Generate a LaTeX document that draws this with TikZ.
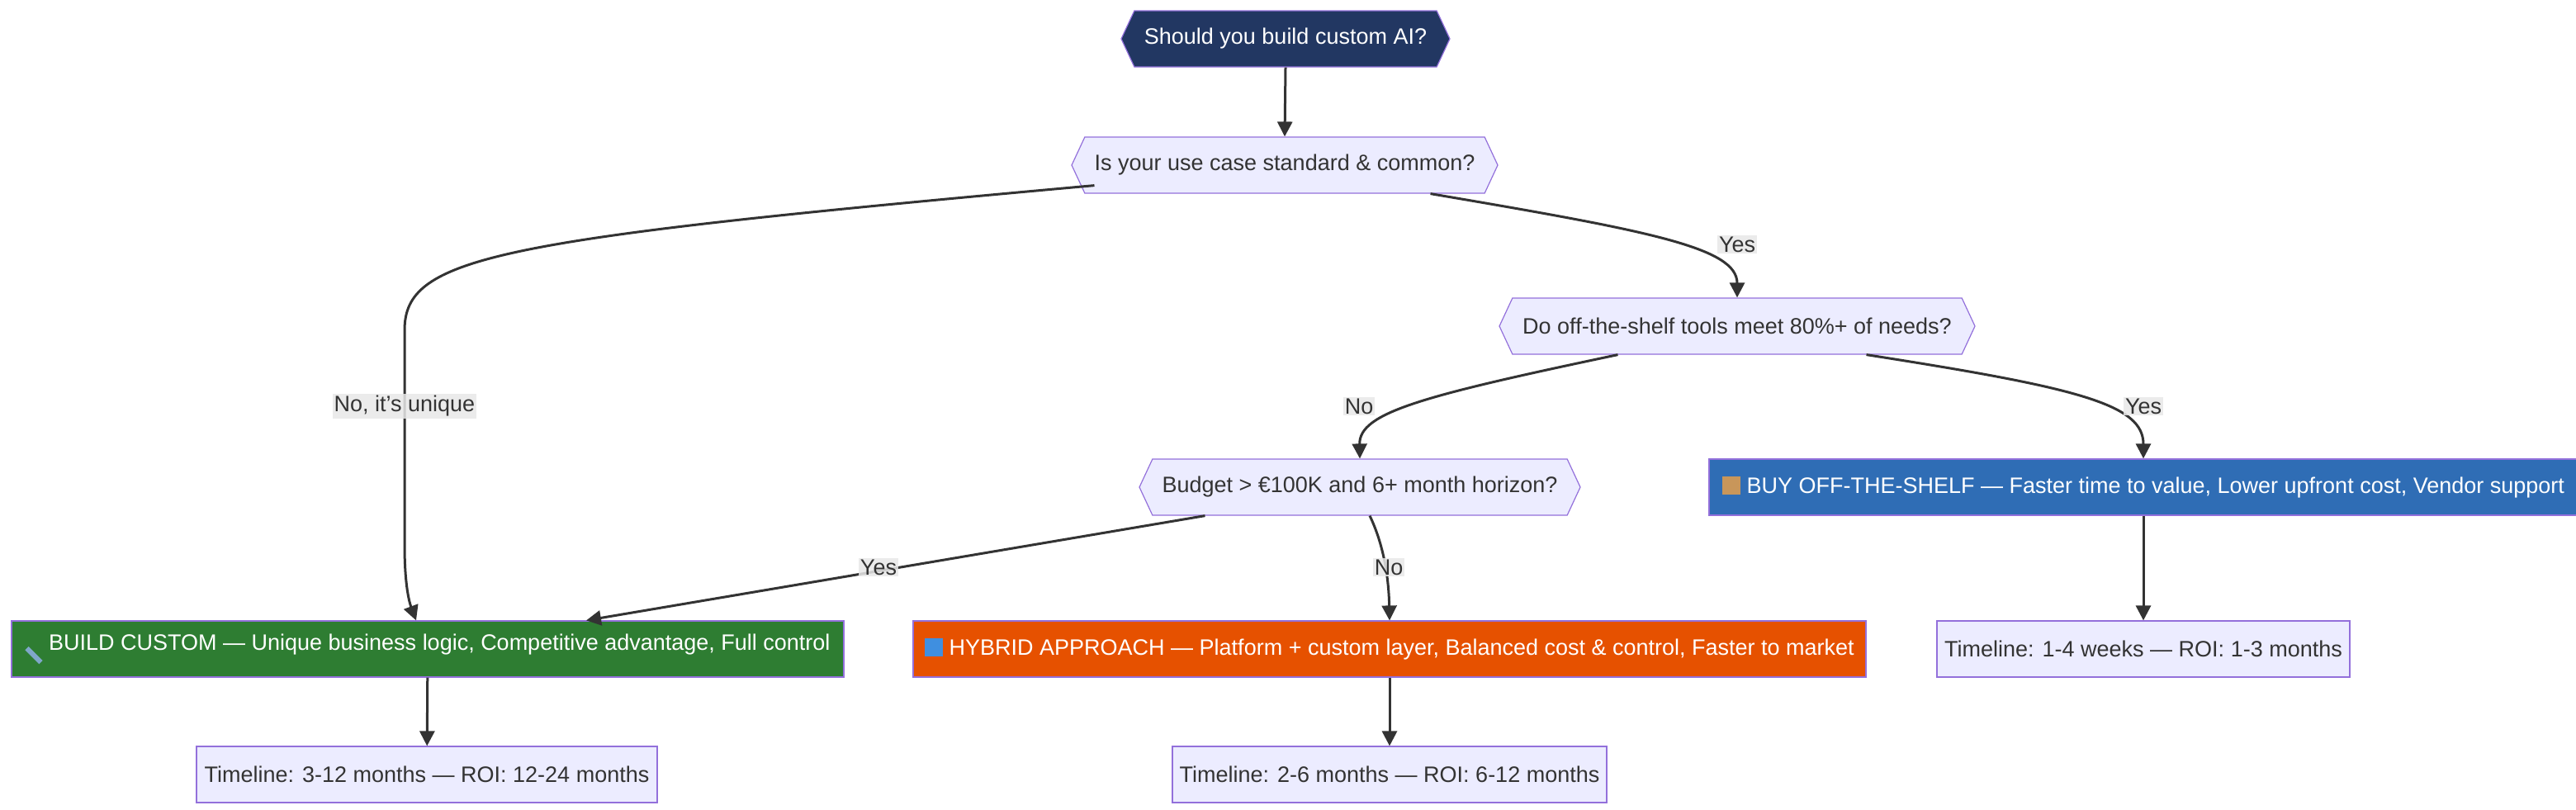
\documentclass[tikz,border=0pt]{standalone}
\usepackage{fontspec}
\setmainfont{Liberation Sans}
\usetikzlibrary{shapes.symbols,arrows.meta,calc}
\definecolor{navy}{HTML}{223762}
\definecolor{lav}{HTML}{ECECFF}
\definecolor{bord}{HTML}{9370DB}
\definecolor{grn}{HTML}{2E7D32}
\definecolor{org}{HTML}{E65100}
\definecolor{blu}{HTML}{2F6DB5}
\definecolor{ln}{HTML}{333333}
\definecolor{txt}{HTML}{333333}
\definecolor{boxc}{HTML}{C8965A}
\definecolor{wrc}{HTML}{7FA7C9}
\definecolor{cyc}{HTML}{3F8FE0}
\newcommand{\icbox}{\textcolor{boxc}{\rule[-1pt]{11pt}{11pt}}}
\newcommand{\icwr}{\textcolor{wrc}{\rotatebox{-45}{\rule{12pt}{3pt}}}}
\newcommand{\iccyc}{\textcolor{cyc}{\rule[-1pt]{11pt}{11pt}}}
\begin{document}
\begin{tikzpicture}[x=1pt,y=-1pt,
  every node/.style={font=\fontsize{13.5}{16}\selectfont, inner sep=0pt},
  hex/.style={signal, signal to=east and west, signal pointer angle=130, draw=bord, line width=0.6pt, fill=lav, text=txt, minimum height=34pt},
  box/.style={rectangle, draw=bord, line width=0.6pt, fill=lav, text=txt, minimum height=34pt},
  res/.style={box, text=white},
  arr/.style={draw=ln, line width=1.5pt, -{Triangle[length=9pt,width=9pt]}},
  lab/.style={fill=black!9, fill opacity=0.85, text opacity=1, text=txt, inner sep=1pt}]
\useasboundingbox (0,0) rectangle (1560,490);
\node[hex, fill=navy, text=white, minimum width=199pt] (s) at (778.5,23.5) {Should you build custom AI?};
\node[hex, minimum width=258pt] (q1) at (778,100) {Is your use case standard \& common?};
\node[hex, minimum width=288pt] (q2) at (1052,197.5) {Do off-the-shelf tools meet 80\%+ of needs?};
\node[hex, minimum width=267pt] (q3) at (823.5,295) {Budget > €100K and 6+ month horizon?};
\node[res, fill=blu, minimum width=526pt] (buy) at (1298,295) {\icbox\ BUY OFF-THE-SHELF — Faster time to value, Lower upfront cost, Vendor support};
\node[res, fill=grn, minimum width=504pt] (build) at (259,393) {\icwr\ BUILD CUSTOM — Unique business logic, Competitive advantage, Full control};
\node[res, fill=org, minimum width=577pt] (hyb) at (841.5,393) {\iccyc\ HYBRID APPROACH — Platform + custom layer, Balanced cost \& control, Faster to market};
\node[box, minimum width=250pt] (tbuy) at (1298,393) {Timeline: 1-4 weeks — ROI: 1-3 months};
\node[box, minimum width=279pt] (tbuild) at (258.5,469) {Timeline: 3-12 months — ROI: 12-24 months};
\node[box, minimum width=263pt] (thyb) at (841.5,469) {Timeline: 2-6 months — ROI: 6-12 months};

\draw[arr] (s.south) -- (q1.north);
\draw[arr] ($(q1.south west)+(6,-5)$) .. controls (300,145) and (245,155) .. (245,200) -- (245,330) .. controls (245,355) and (248,365) .. ([xshift=-7pt]build.north);
\node[lab] at (245,246) {No, it's unique};
\draw[arr] ($(q1.south east)+(-33,0)$) .. controls (1000,140) and (1052,150) .. (q2.north);
\node[lab] at (1052,148) {Yes};
\draw[arr] ($(q2.south west)+(64,0)$) .. controls (860,240) and (823,250) .. (q3.north);
\node[lab] at (823,246) {No};
\draw[arr] ($(q2.south east)+(-58,0)$) .. controls (1260,235) and (1298,245) .. (buy.north);
\node[lab] at (1298,246) {Yes};
\draw[arr] ($(q3.south west)+(32,0)$) -- ([xshift=96pt]build.north);
\node[lab] at (532,343.5) {Yes};
\draw[arr] ($(q3.south)+(6,0)$) .. controls (838,330) and (841,350) .. (hyb.north);
\node[lab] at (841,343.5) {No};
\draw[arr] (buy) -- (tbuy);
\draw[arr] (build) -- (tbuild);
\draw[arr] (hyb) -- (thyb);
\end{tikzpicture}
\end{document}
